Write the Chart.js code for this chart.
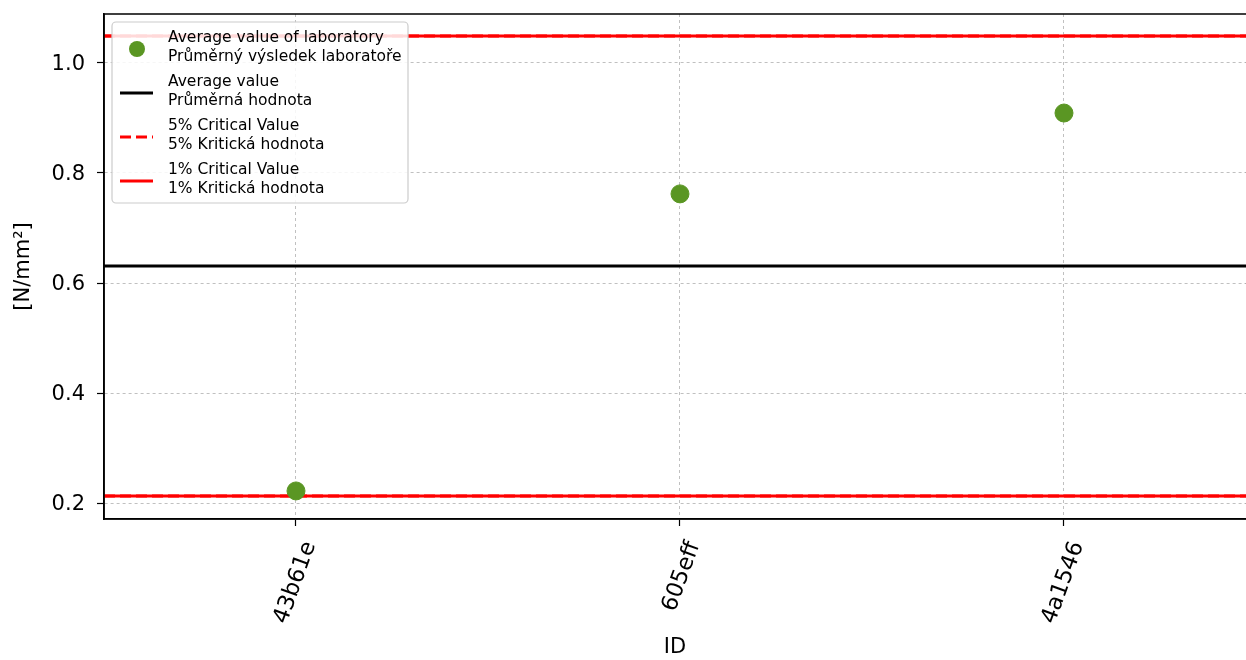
<!DOCTYPE html>
<html>
<head>
<meta charset="utf-8">
<script src="https://cdn.jsdelivr.net/npm/chart.js@4/dist/chart.umd.min.js"></script>
<style>
  html, body { margin: 0; padding: 0; background: #fff; }
  #wrap { width: 1246px; height: 660px; }
</style>
</head>
<body>
<div id="wrap"><canvas id="labChart" width="1246" height="660"></canvas></div>
<script>
// Data
const labIds = ['43b61e', '605eff', '4a1546'];
const labAverages = [0.222, 0.762, 0.909];
const overallAverage = 0.631;
const critical5 = [1.049, 0.213];
const critical1 = [1.049, 0.213];
const yTicks = [0.2, 0.4, 0.6, 0.8, 1.0];

const xMin = -0.5, xMax = 2.474;
const yMin = 0.171, yMax = 1.089;

const green = '#5a9623';
const font = "'DejaVu Sans', sans-serif";

const hLine = (v) => [{ x: xMin, y: v }, { x: xMax, y: v }];

const datasets = [
    {
        label: 'Average value of laboratory',
        type: 'scatter',
        data: labAverages.map((v, i) => ({ x: i, y: v })),
        backgroundColor: green,
        borderColor: green,
        pointRadius: 9,
        order: 0
    },
    {
        label: 'Average value',
        type: 'line',
        data: hLine(overallAverage),
        borderColor: '#000',
        borderWidth: 3,
        pointRadius: 0,
        order: 2
    }
];
critical1.forEach(v => datasets.push({
    label: '1% Critical Value', type: 'line', data: hLine(v),
    borderColor: '#ff0000', borderWidth: 3, pointRadius: 0, order: 1
}));
critical5.forEach(v => datasets.push({
    label: '5% Critical Value', type: 'line', data: hLine(v),
    borderColor: '#ff0000', borderWidth: 3, borderDash: [11, 5], pointRadius: 0, order: 1
}));

// legend drawn inside the plot like matplotlib does
const legendItems = [
    { kind: 'dot', color: green, lines: ['Average value of laboratory', 'Průměrný výsledek laboratoře'] },
    { kind: 'line', color: '#000', dash: [], lines: ['Average value', 'Průměrná hodnota'] },
    { kind: 'line', color: '#ff0000', dash: [11, 5], lines: ['5% Critical Value', '5% Kritická hodnota'] },
    { kind: 'line', color: '#ff0000', dash: [], lines: ['1% Critical Value', '1% Kritická hodnota'] }
];

const boxLegend = {
    id: 'boxLegend',
    afterDraw(chart) {
        const ctx = chart.ctx;
        const a = chart.chartArea;
        ctx.save();
        // frame (left + top + bottom)
        ctx.strokeStyle = '#000';
        ctx.lineWidth = 1.6;
        ctx.beginPath();
        ctx.moveTo(a.right, a.bottom);
        ctx.lineTo(a.left, a.bottom);
        ctx.lineTo(a.left, a.top);
        ctx.lineTo(a.right, a.top);
        ctx.stroke();

        const bx = a.left + 8, by = a.top + 8, bw = 296, bh = 181;
        ctx.fillStyle = 'rgba(255,255,255,0.85)';
        ctx.strokeStyle = '#cccccc';
        ctx.lineWidth = 1.2;
        ctx.beginPath();
        ctx.roundRect(bx, by, bw, bh, 4);
        ctx.fill();
        ctx.stroke();

        ctx.font = '15.5px ' + font;
        ctx.textBaseline = 'middle';
        legendItems.forEach((it, i) => {
            const y0 = by + 16 + i * 44;
            const my = y0 + 9;
            if (it.kind === 'dot') {
                ctx.fillStyle = it.color;
                ctx.beginPath();
                ctx.arc(bx + 25, my + 2, 8, 0, Math.PI * 2);
                ctx.fill();
            } else {
                ctx.strokeStyle = it.color;
                ctx.lineWidth = 3;
                ctx.setLineDash(it.dash);
                ctx.beginPath();
                ctx.moveTo(bx + 8, my + 2);
                ctx.lineTo(bx + 41, my + 2);
                ctx.stroke();
                ctx.setLineDash([]);
            }
            ctx.fillStyle = '#000';
            ctx.fillText(it.lines[0], bx + 56, y0);
            ctx.fillText(it.lines[1], bx + 56, y0 + 18.5);
        });
        ctx.restore();
    }
};

const gridStyle = {
    color: '#b0b0b0',
    lineWidth: 0.8,
    tickColor: '#000',
    tickLength: 7,
    tickWidth: 1.2,
    tickBorderDash: []
};
const borderStyle = { display: true, color: '#000', width: 1.6, dash: [3, 3] };

new Chart(document.getElementById('labChart'), {
    type: 'scatter',
    data: { datasets },
    options: {
        responsive: false,
        animation: false,
        layout: { autoPadding: false, padding: { top: 14, right: 0, left: 0, bottom: 0 } },
        plugins: { legend: { display: false }, tooltip: { enabled: false } },
        scales: {
            x: {
                type: 'linear',
                min: xMin,
                max: xMax,
                afterBuildTicks: (s) => { s.ticks = labIds.map((_, i) => ({ value: i })); },
                afterFit: (s) => { s.height = 141; s.paddingLeft = 0; s.paddingRight = 0; },
                ticks: {
                    callback: (v) => labIds[v],
                    minRotation: 70,
                    maxRotation: 70,
                    labelOffset: 14,
                    color: '#000',
                    font: { family: font, size: 22.5 },
                    padding: 12
                },
                grid: { ...gridStyle },
                border: { ...borderStyle },
                title: {
                    display: true, text: 'ID', color: '#000',
                    font: { family: font, size: 21 },
                    padding: { top: 0, bottom: 0 }
                }
            },
            y: {
                min: yMin,
                max: yMax,
                afterBuildTicks: (s) => { s.ticks = yTicks.map(v => ({ value: v })); },
                afterFit: (s) => { s.width = 104; s.paddingTop = 0; s.paddingBottom = 0; },
                ticks: {
                    callback: (v) => v.toFixed(1),
                    color: '#000',
                    font: { family: font, size: 21 },
                    padding: 12,
                    labelOffset: 2
                },
                grid: { ...gridStyle },
                border: { ...borderStyle },
                title: {
                    display: true, text: '[N/mm²]', color: '#000',
                    font: { family: font, size: 21 },
                    padding: { top: 11, bottom: 0 }
                }
            }
        }
    },
    plugins: [boxLegend]
});
</script>
</body>
</html>
